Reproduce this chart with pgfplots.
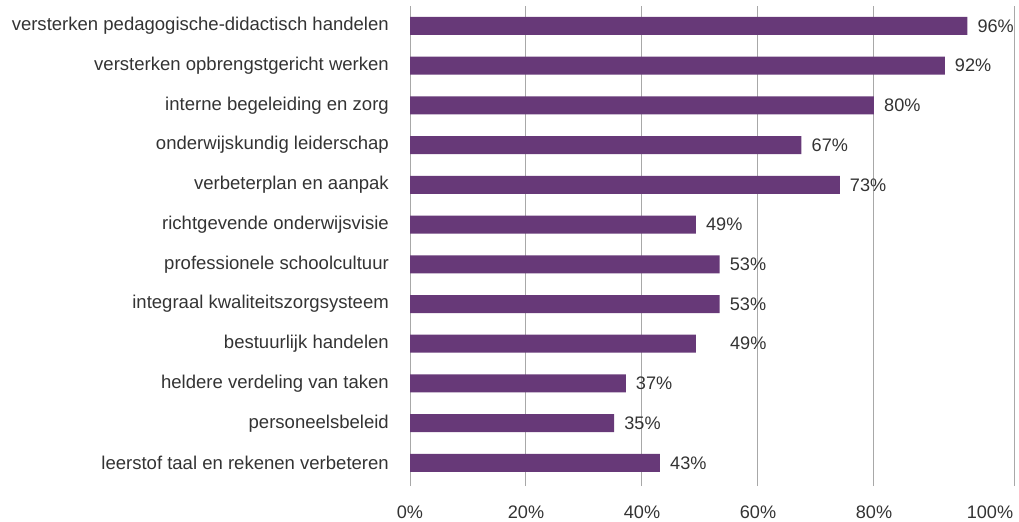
\documentclass[border=0pt]{standalone}
\usepackage{fontspec}
\setmainfont{Liberation Sans}
\usepackage{pgfplots}
\pgfplotsset{compat=1.18}
\definecolor{barcol}{HTML}{673978}
\definecolor{txtcol}{HTML}{333333}
\definecolor{gridcol}{HTML}{A8A8A8}
\begin{document}
\begin{tikzpicture}
\useasboundingbox (0,0) rectangle (1019bp,522bp);
\begin{axis}[
  at={(410bp,36bp)}, anchor=south west,
  scale only axis, width=604bp, height=480bp,
  xbar, bar width=18bp,
  xmin=0, xmax=104.14, ymin=0.42, ymax=12.5,
  axis line style={draw=none},
  major tick length=0pt,
  tick style={draw=none},
  xtick={0,20,40,60,80,100},
  xticklabels={0\%,20\%,40\%,60\%,80\%,100\%},
  extra x ticks={0,20,40,60,80,104.14},
  extra x tick labels={},
  extra x tick style={grid=major, major grid style={gridcol, line width=1bp}},
  ytick={1,...,12},
  yticklabels={leerstof taal en rekenen verbeteren,personeelsbeleid,heldere verdeling van taken,bestuurlijk handelen,integraal kwaliteitszorgsysteem,professionele schoolcultuur,richtgevende onderwijsvisie,verbeterplan en aanpak,onderwijskundig leiderschap,interne begeleiding en zorg,versterken opbrengstgericht werken,versterken pedagogische-didactisch handelen},
  xticklabel style={font=\fontsize{18.2}{21}\selectfont, text=txtcol, inner sep=0pt, anchor=north, yshift=-20bp},
  yticklabel style={font=\fontsize{18.6}{21}\selectfont, text=txtcol, inner sep=0pt, anchor=east, xshift=-21bp},
  nodes near coords,
  point meta=explicit symbolic,
  nodes near coords style={anchor=west, inner sep=0pt, xshift=10bp, font=\fontsize{18.2}{21}\selectfont, text=txtcol},
  clip=false,
]
\addplot[fill=barcol, draw=none] coordinates {
  (96.1,12) [96\%]
  (92.2,11) [92\%]
  (80.0,10) [80\%]
  (67.5,9) [67\%]
  (74.1,8) [73\%]
  (49.3,7) [49\%]
  (53.4,6) [53\%]
  (53.4,5) [53\%]
  (49.3,4) [{\hspace{24bp}49\%}]
  (37.2,3) [37\%]
  (35.2,2) [35\%]
  (43.1,1) [43\%]
};
\end{axis}
\end{tikzpicture}
\end{document}
